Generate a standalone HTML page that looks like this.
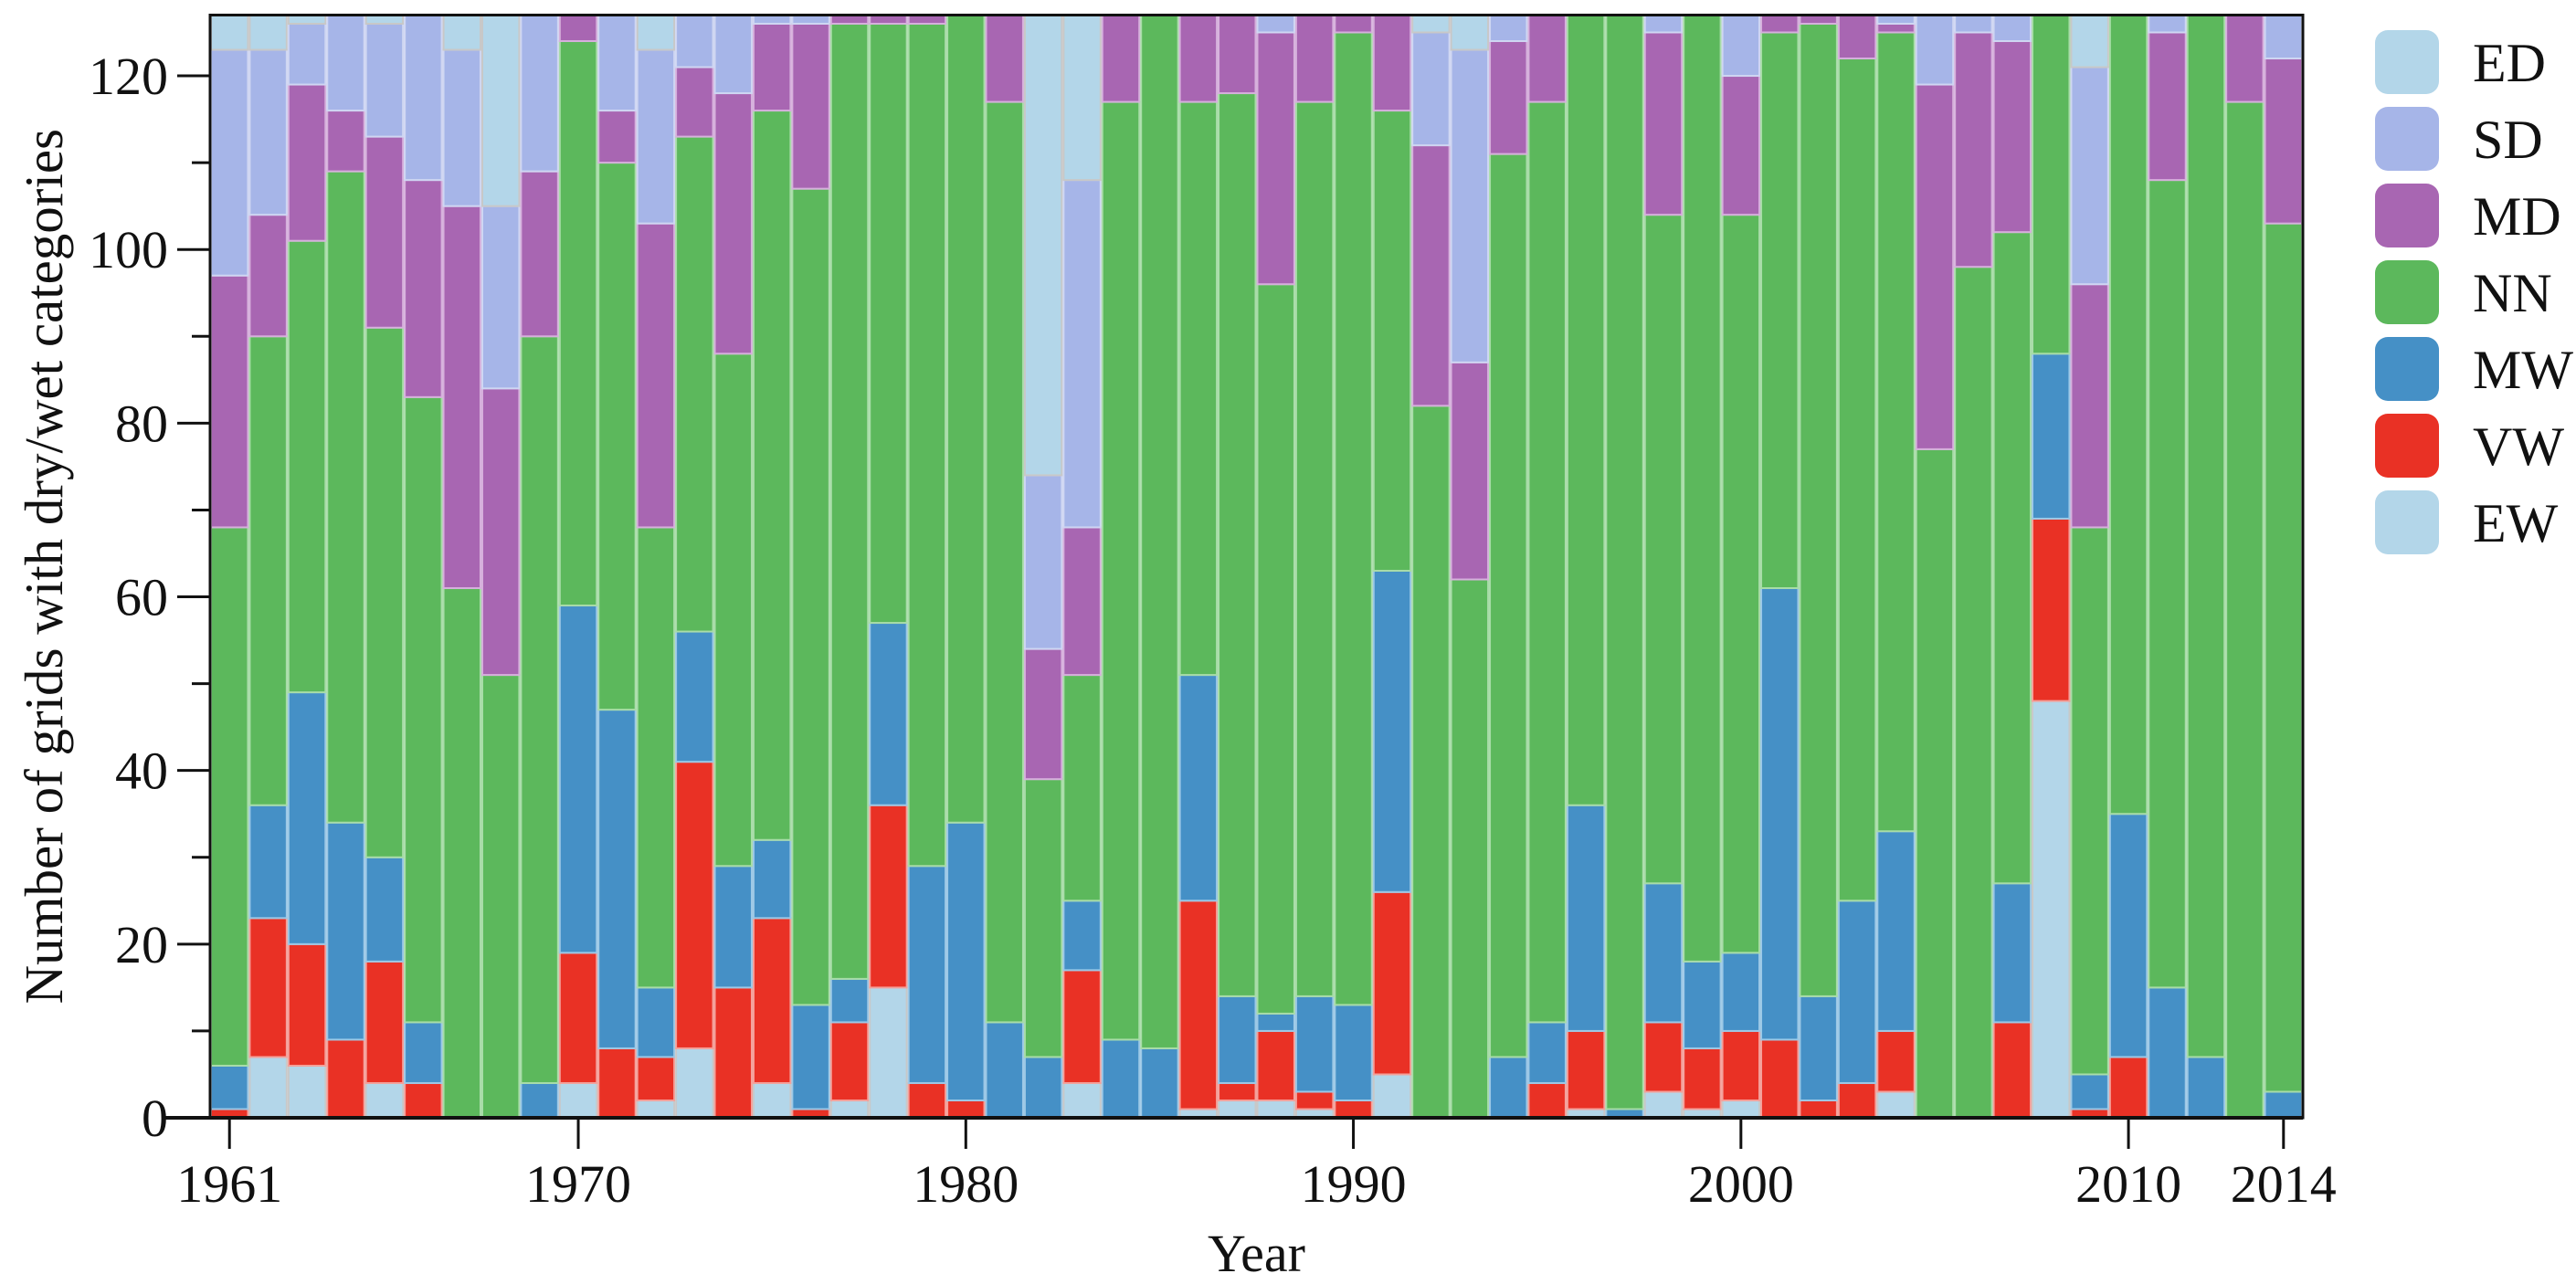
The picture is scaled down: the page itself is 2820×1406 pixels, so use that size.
<!DOCTYPE html>
<html><head><meta charset="utf-8">
<style>
html,body{margin:0;padding:0;background:#fff;}
svg{display:block;font-family:"Liberation Serif",serif;}
</style></head>
<body>
<svg id="chart" width="2820" height="1406" viewBox="0 0 2820 1406" xmlns="http://www.w3.org/2000/svg"></svg>
<script>
const years = [];
for (let y = 1961; y <= 2014; y++) years.push(y);
const EW = [0,7,6,0,4,0,0,0,0,4,0,2,8,0,4,0,2,15,0,0,0,0,4,0,0,1,2,2,1,0,5,0,0,0,0,1,0,3,1,2,0,0,0,3,0,0,0,48,0,0,0,0,0,0];
const VW = [1,16,14,9,14,4,0,0,0,15,8,5,33,15,19,1,9,21,4,2,0,0,13,0,0,24,2,8,2,2,21,0,0,0,4,9,0,8,7,8,9,2,4,7,0,0,11,21,1,7,0,0,0,0];
const MW = [5,13,29,25,12,7,0,0,4,40,39,8,15,14,9,12,5,21,25,32,11,7,8,9,8,26,10,2,11,11,37,0,0,7,7,26,1,16,10,9,52,12,21,23,0,0,16,19,4,28,15,7,0,3];
const NN = [62,54,52,75,61,72,61,51,86,65,63,53,57,59,84,94,110,69,97,93,106,32,26,108,119,66,104,84,103,112,53,82,62,104,106,91,126,77,109,85,64,112,97,92,77,98,75,39,63,92,93,120,117,100];
const MD = [29,14,18,7,22,25,44,33,19,3,6,35,8,30,10,19,1,1,1,0,10,15,17,10,0,10,9,29,10,2,11,30,25,13,10,0,0,21,0,16,2,1,5,1,42,27,22,0,28,0,17,0,10,19];
const SD = [26,19,7,11,13,19,18,21,18,0,11,20,6,9,1,1,0,0,0,0,0,20,40,0,0,0,0,2,0,0,0,13,36,3,0,0,0,2,0,7,0,0,0,1,8,2,3,0,25,0,2,0,0,5];
const ED = [4,4,1,0,1,0,4,22,0,0,0,4,0,0,0,0,0,0,0,0,0,53,19,0,0,0,0,0,0,0,0,2,4,0,0,0,0,0,0,0,0,0,0,0,0,0,0,0,6,0,0,0,0,0];
const yTicks = [0,20,40,60,80,100,120];
const xTickYears = [1961,1970,1980,1990,2000,2010,2014];
const seriesNames = ["EW","VW","MW","NN","MD","SD","ED"];
const legendNames = ["ED","SD","MD","NN","MW","VW","EW"];

const colors = {EW:"#b3d6e9",VW:"#e93125",MW:"#4590c6",NN:"#5cb85c",MD:"#a866b2",SD:"#a6b5e8",ED:"#b3d6e9"};
const edges = {EW:"#c8c8c8",VW:"#f4a09a",MW:"#9cc8e6",NN:"#a8dca8",MD:"#d6b0dc",SD:"#cfd6f2",ED:"#c8c8c8"};
const series = {EW,VW,MW,NN,MD,SD,ED};

const NS = "http://www.w3.org/2000/svg";
const svg = document.getElementById('chart');
const L = 230, R = 2521, B = 1224, YMAX = 127, PXU = 9.508;
const T = B - YMAX * PXU;
const step = (R - L) / years.length;
const yS = v => B - v * PXU;
const xS = yr => L + (yr - years[0]) * step + step / 2;

function mk(tag, attrs, parent) {
  const e = document.createElementNS(NS, tag);
  for (const k in attrs) e.setAttribute(k, attrs[k]);
  (parent || svg).appendChild(e);
  return e;
}

const barsG = mk('g', {});


years.forEach((yr, i) => {
  let cum = 0;
  seriesNames.forEach(s => {
    const v = series[s][i];
    if (v > 0) {
      const r = mk('rect', {x: xS(yr) - step / 2 + 1, y: yS(cum + v), width: step - 2, height: v * PXU, fill: colors[s], stroke: edges[s], 'stroke-width': 2}, barsG);
      
      
    }
    cum += v;
  });
});

const frame = mk('rect', {x: L, y: T, width: R - L, height: B - T, fill: 'none', stroke: '#111', 'stroke-width': 3});


const xAxis = mk('line', {x1: L - 50, y1: B, x2: R, y2: B, stroke: '#111', 'stroke-width': 4});



for (let v = 0; v <= 120; v += 10) {
  const major = v % 20 === 0;
  const t = mk('line', {x1: major ? L - 36 : L - 20, y1: yS(v), x2: L, y2: yS(v), stroke: '#111', 'stroke-width': 3});
  
  
}
yTicks.forEach(v => {
  const t = mk('text', {x: L - 46, y: yS(v) + 20, 'text-anchor': 'end', 'font-size': 58, fill: '#111'});
  t.textContent = v;
  
  
});
xTickYears.forEach(yr => {
  const t = mk('line', {x1: xS(yr), y1: B, x2: xS(yr), y2: B + 34, stroke: '#111', 'stroke-width': 3});
  
  
  const l = mk('text', {x: xS(yr), y: B + 92, 'text-anchor': 'middle', 'font-size': 58, fill: '#111'});
  l.textContent = yr;
  
  
});

const xt = mk('text', {x: (L + R) / 2, y: 1392, 'text-anchor': 'middle', 'font-size': 58, fill: '#111'});
xt.textContent = 'Year';


const yt = mk('text', {x: 0, y: 0, 'text-anchor': 'middle', 'font-size': 59, fill: '#111', transform: 'translate(68,' + ((T + B) / 2) + ') rotate(-90)'});
yt.textContent = 'Number of grids with dry/wet categories';



const lg = mk('g', {});


legendNames.forEach((n, i) => {
  const y0 = 33 + i * 84;
  const b = mk('rect', {x: 2600, y: y0, width: 70, height: 70, rx: 14, fill: colors[n]}, lg);
  
  
  const t = mk('text', {x: 2707, y: y0 + 56, 'font-size': 60, fill: '#111'}, lg);
  t.textContent = n;
  
  
});
</script>
</body></html>
